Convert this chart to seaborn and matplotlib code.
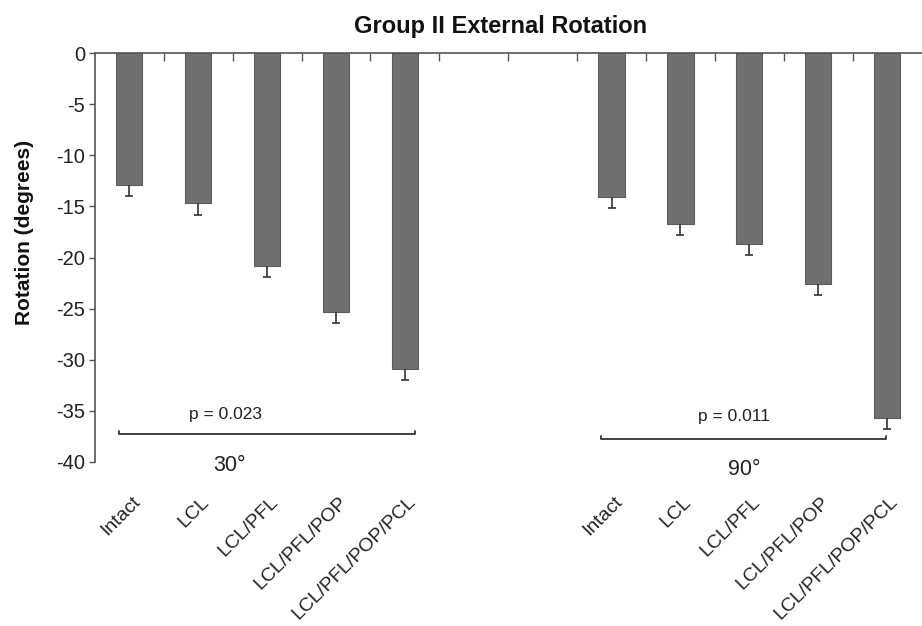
import pandas as pd
import seaborn as sns
import matplotlib.pyplot as plt
from matplotlib.transforms import blended_transform_factory

# values (degrees)
conditions = ['Intact', 'LCL', 'LCL/PFL', 'LCL/PFL/POP', 'LCL/PFL/POP/PCL']
rot_30 = [-12.9, -14.7, -20.8, -25.3, -30.9]
rot_90 = [-14.1, -16.7, -18.7, -22.6, -35.7]
err_30 = [1.1, 1.1, 1.1, 1.1, 1.1]
err_90 = [1.1, 1.1, 1.1, 1.1, 1.1]
angles = ['30°', '90°']
p_values = ['p = 0.023', 'p = 0.011']
yticks = [0, -5, -10, -15, -20, -25, -30, -35, -40]

df = pd.DataFrame({
    'slot': [f'30 {c}' for c in conditions] + [f'90 {c}' for c in conditions],
    'label': conditions * 2,
    'rotation': rot_30 + rot_90,
    'err': err_30 + err_90,
})
# two empty slots between the flexion angles
order = list(df['slot'][:5]) + ['gap1', 'gap2'] + list(df['slot'][5:])
df['pos'] = [order.index(s) for s in df['slot']]

sns.set_style('white')
plt.rcParams['font.family'] = ['Liberation Sans', 'DejaVu Sans']
plt.rcParams['axes.unicode_minus'] = False

fig, ax = plt.subplots(figsize=(9.22, 6.26), dpi=100)
fig.subplots_adjust(left=0.103, right=0.9995, top=1 - 53.3 / 626, bottom=1 - 461.7 / 626)

sns.barplot(data=df, x='slot', y='rotation', order=order, color='#707070',
            saturation=1, width=0.38, errorbar=None, edgecolor='#5c5c5c',
            linewidth=0.8, ax=ax)
# one-sided error bars (downward only)
eb = ax.errorbar(df['pos'], df['rotation'], yerr=[df['err'], [0] * len(df)],
                 fmt='none', ecolor='#333333', elinewidth=1.2, capsize=3, capthick=1.2)
eb[1][1].remove()

ax.set_xlim(-0.5, 11.5)
ax.set_ylim(-40, 0)
ax.set_yticks(yticks)
ax.set_yticklabels([str(t) for t in yticks], fontsize=14.5, color='#222222')
ax.set_xticks([])
ax.set_xticks([i + 0.5 for i in range(11)], minor=True)
ax.tick_params(axis='x', which='both', bottom=False, top=True, labelbottom=False,
               direction='in', length=6, width=1, color='#555555')
ax.tick_params(axis='y', left=True, direction='out', length=4, width=1,
               color='#555555', pad=3)
ax.set_xlabel('')
ax.set_ylabel('')
for side in ['right', 'bottom']:
    ax.spines[side].set_visible(False)
for side in ['top', 'left']:
    ax.spines[side].set_color('#555555')
    ax.spines[side].set_linewidth(1.2)

# condition labels below the plot
trans = blended_transform_factory(ax.transData, ax.transAxes)
for pos, lab in zip(df['pos'], df['label']):
    ax.text(pos + 0.12, -0.092, lab, transform=trans, rotation=45, ha='right',
            va='center', rotation_mode='anchor', fontsize=14, color='#222222')

# significance brackets
brackets = [(-0.15, 4.15, -37.3), (6.85, 10.99, -37.8)]
p_pos = [(1.4, -35.4), (8.78, -35.6)]
angle_pos = [(1.46, -40.4), (8.93, -40.8)]
for (x0, x1, y), (px, py), (axx, ayy), p, a in zip(brackets, p_pos, angle_pos, p_values, angles):
    ax.plot([x0, x0, x1, x1], [y + 0.35, y, y, y + 0.35], color='#333333', lw=1.3,
            clip_on=False)
    ax.text(px, py, p, ha='center', va='center', fontsize=12.5, color='#222222')
    ax.text(axx, ayy, a, ha='center', va='center', fontsize=15.5, color='#222222')

fig.text(501 / 922, 1 - 26 / 626, 'Group II External Rotation', ha='center',
         va='center', fontsize=17, fontweight='bold', color='#111111')
fig.text(25 / 922, 1 - 232 / 626, 'Rotation (degrees)', rotation=90, ha='center',
         va='center', fontsize=15, fontweight='bold', color='#111111')

plt.savefig('out.png', dpi=100)
